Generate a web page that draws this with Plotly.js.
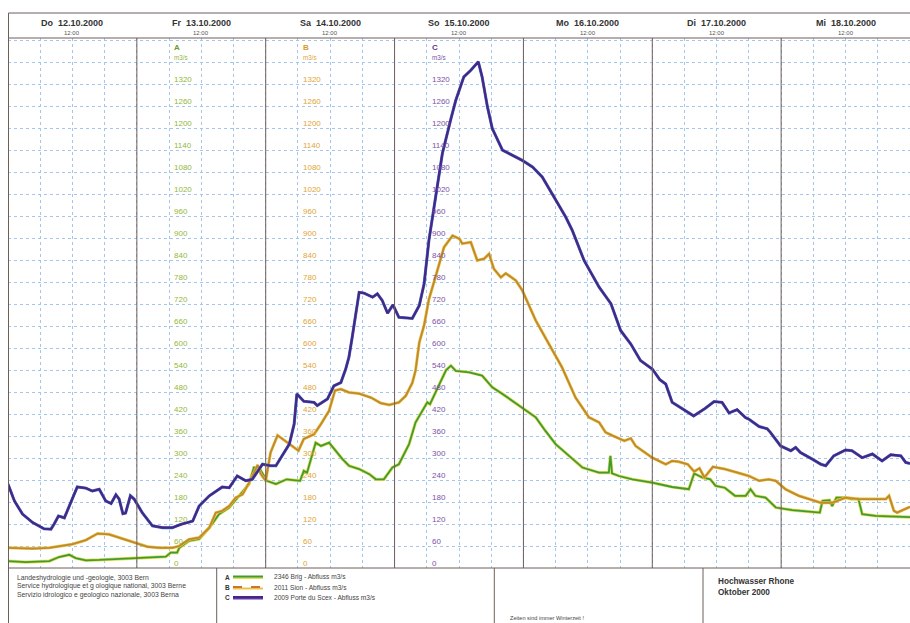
<!DOCTYPE html>
<html><head><meta charset="utf-8">
<script src="https://cdn.plot.ly/plotly-3.0.1.min.js"></script>
<style>html,body{margin:0;padding:0;background:#fff;}#chart{width:910px;height:623px;}</style>
</head><body><div id="chart"></div>
<script>
// ---- data (hours after 12.10.2000 00:00, discharge m3/s) ----
const dayNames = ["Do","Fr","Sa","So","Mo","Di","Mi"];
const dayDates = ["12.10.2000","13.10.2000","14.10.2000","15.10.2000","16.10.2000","17.10.2000","18.10.2000"];
const tickValues = [0,60,120,180,240,300,360,420,480,540,600,660,720,780,840,900,960,1020,1080,1140,1200,1260,1320];
const seriesNames = ["2346 Brig - Abfluss m3/s","2011 Sion - Abfluss m3/s","2009 Porte du Scex - Abfluss m3/s"];

const hoursA = [0,3.3,7.7,9.5,11.4,12.6,14.5,17,23.8,29.4,30.3,31.5,31.9,33.7,35.6,37.5,38.4,39.3,41.2,43,44.9,45.8,46.8,48.2,49.9,51.9,53,54.4,55.1,55.7,57.3,58.3,59.8,61,62.3,63.5,65.4,67.3,68.5,70,71.6,72.8,74.7,75.9,77.2,78.1,78.6,79.4,80.2,81.6,82.5,83.4,85.9,88.3,90.2,92.1,93.9,95.8,98.3,100.1,102,104.5,107,110.1,111.9,112.2,112.5,113.8,116.3,120,123.7,126.8,127.8,129.3,130.8,131.8,133.5,135.4,137.4,138.3,139.2,141.1,143,146.1,150.4,151.2,151.7,153,153.5,154.3,156,157.2,158.4,159.1,161.6,168];
const flowA  = [19,16,19,30,36,27,21,22,27,31,42,42,55,74,79,110,128,147,165,197,229,274,273,238,229,242,240,238,265,260,342,333,342,320,297,279,270,256,242,242,274,283,338,397,429,452,447,470,497,540,552,538,534,525,493,475,456,438,411,374,338,306,274,260,260,306,258,251,242,233,221,215,258,247,242,224,219,197,197,215,197,192,165,158,151,151,183,185,169,192,192,188,188,147,142,139];

const hoursB = [0,4.6,7.7,9.5,12,14.5,16.7,18.8,21.3,23.8,26,28.2,30.6,31.9,33.7,35.6,37.5,38.7,39.9,41.2,42.4,43.7,44.9,46.5,47.1,48,48.9,50.2,51.7,53,54.1,55.1,57,58.3,59.8,60.9,62,63.5,65.4,67.6,69.4,71,72.8,74.1,75.3,75.9,76.6,77.5,78.4,79.7,81.2,82.8,84.1,84.6,86.2,87.4,88.7,89.6,90.5,91.8,92.7,94.6,95.8,98.3,100.8,103.2,105.7,108.2,110.1,111.3,112.6,114.8,116,116.9,120,122.5,123.7,124.9,126.6,127.8,128.8,129.7,131.3,133.5,135.9,138,139.9,141.7,143,144.8,147.3,149.2,151.4,153.5,156,158.5,161.6,163.5,164.1,165,165.6,168];
const flowB  = [55,53,55,60,65,76,94,92,80,69,58,55,55,60,78,83,110,151,156,169,192,201,233,281,256,238,315,362,345,331,320,352,365,393,429,484,488,479,476,465,450,445,452,470,505,538,615,662,733,798,875,907,898,885,889,839,844,857,816,793,804,784,757,675,611,547,465,411,397,370,361,347,354,333,301,283,292,290,283,263,272,247,276,270,260,251,238,242,238,215,197,188,178,178,192,188,188,188,197,156,151,167];

const hoursC = [0,1.2,2.7,4.6,6.7,8,8.6,9.4,10.5,11.4,12.9,14.5,15.7,17,18.2,19.2,20.1,20.7,21.4,21.9,22.8,23.5,25,26.9,28.8,30.6,32.2,34.4,35.6,37.5,39.9,41.2,42.7,44.3,45.5,47.4,48.9,49.9,50.8,52.4,53.3,53.8,55.1,57,57.6,59.5,60.7,62,62.9,63.5,64.1,65.4,66.3,67.9,68.8,69.7,70.7,71.7,72.8,75.3,76.6,77.5,78.4,79.7,80.9,82.5,83.4,84.9,86.2,87.6,88.3,89.3,90.2,92.1,93.9,95.8,97.7,99.5,101.7,103.9,105.1,107.3,110.1,112.3,114.1,116,117.8,120,121.4,122.5,123.7,125.6,127.7,129.9,131.5,133,134.3,135.8,137.4,138,139.9,141.4,142,143.9,145.8,146.7,147.6,149.8,151.4,152.3,153.8,156,157.2,159.1,161,162.8,164.4,166.3,167.2,168];
const flowC  = [229,183,147,124,107,106,120,142,137,169,221,218,210,215,183,176,200,188,148,150,197,188,151,115,110,110,119,128,169,197,221,219,251,238,242,283,279,279,301,338,393,475,455,452,443,461,497,506,543,575,629,752,750,739,748,730,695,718,684,681,716,775,894,1021,1131,1226,1276,1340,1358,1381,1340,1258,1199,1140,1126,1112,1094,1067,1012,957,921,839,766,721,648,611,566,543,514,502,452,434,415,436,454,452,423,432,410,406,386,380,370,333,320,329,315,297,283,279,306,322,320,301,311,292,309,306,288,285];

// ---- helpers ----
const W = 910, H = 623, ML = 8, MR = 0, MT = 38, MB = 55;
const PW = W - ML - MR, PH = H - MT - MB;
const px = x => (x - ML) / PW;
const py = y => (H - MB - y) / PH;
function d(h) {
  const t = new Date(Date.UTC(2000, 9, 12) + h * 3600000);
  return t.toISOString().slice(0, 19).replace('T', ' ');
}
const FONT = '"Liberation Sans", Arial, sans-serif';
const frameCol = '#6e5e5a';
const gridCol = '#a3c6ee';

// ---- traces ----
const traces = [
  {x: hoursA.map(d), y: flowA, mode: 'lines', line: {color: '#e3dd4a', width: 3.2}, hoverinfo: 'skip'},
  {x: hoursA.map(d), y: flowA, mode: 'lines', line: {color: '#3f9a3a', width: 1.8}, name: seriesNames[0]},
  {x: hoursB.map(d), y: flowB, mode: 'lines', line: {color: '#ecc24a', width: 3}, hoverinfo: 'skip'},
  {x: hoursB.map(d), y: flowB, mode: 'lines', line: {color: '#bf8a2c', width: 1.8}, name: seriesNames[1]},
  {x: hoursC.map(d), y: flowC, mode: 'lines', line: {color: '#3b78c8', width: 3}, hoverinfo: 'skip'},
  {x: hoursC.map(d), y: flowC, mode: 'lines', line: {color: '#4a2585', width: 2.2}, name: seriesNames[2]}
];

// ---- shapes ----
const shapes = [];
for (let i = 1; i < 7; i++) {
  shapes.push({type: 'line', xref: 'x', yref: 'paper', x0: d(24 * i), x1: d(24 * i), y0: 0, y1: 1,
    line: {color: frameCol, width: 1}});
}
shapes.push({type: 'rect', xref: 'paper', yref: 'paper', x0: px(8.5), x1: px(912), y0: 1, y1: py(13),
  line: {color: frameCol, width: 1}, fillcolor: 'rgba(0,0,0,0)'});
shapes.push({type: 'line', xref: 'paper', yref: 'paper', x0: px(8.5), x1: px(8.5), y0: py(13), y1: py(630),
  line: {color: frameCol, width: 1}});
shapes.push({type: 'line', xref: 'paper', yref: 'paper', x0: px(8.5), x1: px(912), y0: 0, y1: 0,
  line: {color: frameCol, width: 1}});
[216.7, 494.3, 703].forEach(xp => shapes.push({type: 'line', xref: 'paper', yref: 'paper',
  x0: px(xp), x1: px(xp), y0: 0, y1: py(630), line: {color: frameCol, width: 1}}));
const legY = [577, 587.5, 597.5];
const legCols = [['#e3dd4a', '#3f9a3a'], ['#ecc24a', '#c8782c'], ['#5a3aa8', '#4a2585']];
legY.forEach((yy, i) => {
  shapes.push({type: 'line', xref: 'paper', yref: 'paper', x0: px(233), x1: px(263), y0: py(yy + 1), y1: py(yy + 1),
    line: {color: legCols[i][0], width: 2}});
  shapes.push({type: 'line', xref: 'paper', yref: 'paper', x0: px(233), x1: px(263), y0: py(yy - 0.5), y1: py(yy - 0.5),
    line: {color: legCols[i][1], width: 2, dash: i === 1 ? 'dash' : 'solid'}});
});

// ---- annotations ----
const ann = [];
function txt(text, xp, yp, size, color, bold, anchor) {
  ann.push({text: bold ? '<b>' + text + '</b>' : text, xref: 'paper', yref: 'paper', x: px(xp), y: py(yp),
    xanchor: anchor || 'left', yanchor: 'middle', showarrow: false,
    font: {family: FONT, size: size, color: color}});
}
dayNames.forEach((n, i) => {
  ann.push({text: '<b>' + n + '\u00a0\u00a0' + dayDates[i] + '</b>', xref: 'x', yref: 'paper', x: d(24 * i + 12), y: py(23.5),
    xanchor: 'center', yanchor: 'middle', showarrow: false, font: {family: FONT, size: 9, color: '#333'}});
  ann.push({text: '12:00', xref: 'x', yref: 'paper', x: d(24 * i + 12), y: py(32.5),
    xanchor: 'center', yanchor: 'middle', showarrow: false, font: {family: FONT, size: 6, color: '#555'}});
});
const cols = [{h: 30, lab: 'A', c: '#93b83a', hc: '#6f9a2a'}, {h: 54, lab: 'B', c: '#e2a536', hc: '#d89a2a'}, {h: 78, lab: 'C', c: '#7a52a8', hc: '#5a3a8a'}];
cols.forEach(col => {
  tickValues.forEach(v => {
    ann.push({text: String(v), xref: 'x', yref: 'y', x: d(col.h), y: v, xanchor: 'left', yanchor: 'middle',
      xshift: 3, yshift: 4.5, showarrow: false, font: {family: FONT, size: 8, color: col.c}});
  });
  ann.push({text: '<b>' + col.lab + '</b>', xref: 'x', yref: 'paper', x: d(col.h), y: py(47.5), xanchor: 'left', yanchor: 'middle',
    xshift: 3, showarrow: false, font: {family: FONT, size: 8, color: col.hc}});
  ann.push({text: 'm3/s', xref: 'x', yref: 'paper', x: d(col.h), y: py(57), xanchor: 'left', yanchor: 'middle',
    xshift: 3, showarrow: false, font: {family: FONT, size: 6.3, color: col.c}});
});
txt('Landeshydrologie und -geologie, 3003 Bern', 15, 577.5, 6.8, '#444');
txt('Service hydrologique et g ologique national, 3003 Berne', 15, 586, 6.8, '#444');
txt('Servizio idrologico e geologico nazionale, 3003 Berna', 15, 594.5, 6.8, '#444');
['A', 'B', 'C'].forEach((l, i) => {
  txt(l, 222.5, legY[i], 6.5, '#333', true);
  txt(seriesNames[i], 271.5, legY[i], 6.6, '#444');
});
txt('Zeiten sind immer Winterzeit !', 507.5, 617.5, 5.6, '#444');
txt('Hochwasser Rhone', 715.5, 581, 8.2, '#333', true);
txt('Oktober 2000', 715.5, 592.5, 8.2, '#333', true);

const layout = {
  width: W, height: H, margin: {l: ML, r: MR, t: MT, b: MB, pad: 0},
  paper_bgcolor: '#ffffff', plot_bgcolor: '#ffffff', showlegend: false,
  xaxis: {type: 'date', range: [d(0), d(168)], tick0: d(0), dtick: 21600000, showgrid: true,
    gridcolor: gridCol, griddash: '3px,3px', gridwidth: 1, showticklabels: false, ticks: '', zeroline: false, showline: false},
  yaxis: {range: [0, 1446], tick0: 0, dtick: 60, showgrid: true, gridcolor: gridCol, griddash: '3px,3px', gridwidth: 1,
    showticklabels: false, ticks: '', zeroline: false, showline: false},
  shapes: shapes, annotations: ann
};
Plotly.newPlot('chart', traces, layout, {displayModeBar: false, staticPlot: true});
</script></body></html>
